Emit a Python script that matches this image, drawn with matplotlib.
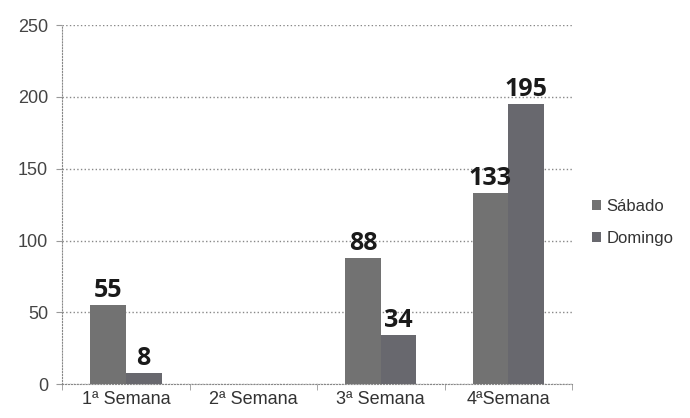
import numpy as np
import matplotlib.pyplot as plt

semanas = ['1ª Semana', '2ª Semana', '3ª Semana', '4ªSemana']
sabado = [55, 0, 88, 133]
domingo = [8, 0, 34, 195]
sabado_lbl = ['55', '', '88', '133']
domingo_lbl = ['8', '', '34', '195']

plt.rcParams['font.family'] = ['Liberation Sans', 'DejaVu Sans']

fig = plt.figure(figsize=(6.9, 4.18), dpi=100)
ax = fig.add_axes([0.09, 0.081, 0.739, 0.859])

x = np.arange(len(semanas))
w = 0.28
b1 = ax.bar(x - w/2, sabado, w, color='#727272', label='Sábado', zorder=3)
b2 = ax.bar(x + w/2, domingo, w, color='#68686e', label='Domingo', zorder=3)

for bars, lbls in ((b1, sabado_lbl), (b2, domingo_lbl)):
    for r, t in zip(bars, lbls):
        if t:
            ax.text(r.get_x() + r.get_width()/2, r.get_height() + 5.5, t,
                    ha='center', va='baseline', fontsize=18, fontweight='bold',
                    family='Open Sans', color='#1a1a1a', zorder=4)

ax.set_xlim(-0.5, 3.5)
ax.set_ylim(0, 250)
ax.set_yticks([0, 50, 100, 150, 200, 250])
ax.set_xticks(x)
ax.set_xticklabels(semanas)
ax.set_xticks(np.arange(-0.5, 4, 1), minor=True)
ax.tick_params(axis='x', which='major', length=0, labelsize=13, colors='#333333', pad=5)
ax.tick_params(axis='x', which='minor', length=4, color='#999999')
ax.tick_params(axis='y', length=4, labelsize=13, colors='#444444', color='#999999', pad=6)
ax.yaxis.grid(True, linestyle=':', color='#888888', linewidth=1, zorder=0)

for s in ['top', 'right']:
    ax.spines[s].set_visible(False)
for s in ['left', 'bottom']:
    ax.spines[s].set_linestyle(':')
    ax.spines[s].set_color('#888888')

ax.legend(loc='center left', bbox_to_anchor=(1.01, 0.45), frameon=False,
          fontsize=12, handlelength=0.55, handleheight=0.55, handletextpad=0.3,
          labelspacing=1.0, labelcolor='#333333')

fig.savefig('out.png', dpi=100, facecolor='white')
